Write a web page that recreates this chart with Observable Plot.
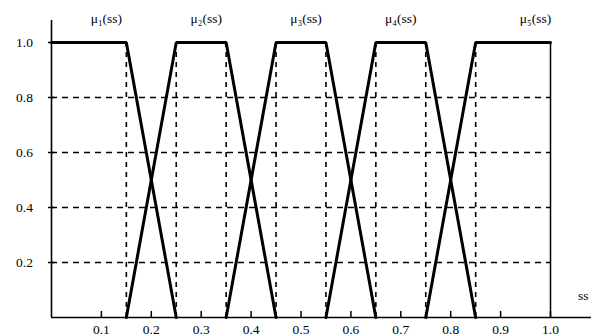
<!DOCTYPE html>
<html><head><meta charset="utf-8">
<script src="https://cdn.jsdelivr.net/npm/d3@7"></script>
<script src="https://cdn.jsdelivr.net/npm/@observablehq/plot@0.6"></script>
<style>body{margin:0;background:#fff;} svg{display:block;}</style>
</head><body><div id="chart"></div>
<script>
const xTicks = [0.1,0.2,0.3,0.4,0.5,0.6,0.7,0.8,0.9,1.0];
const xTickLabels = ["0.1","0.2","0.3","0.4","0.5","0.6","0.7","0.8","0.9","1.0"];
const yTicks = [0.2,0.4,0.6,0.8,1.0];
const yTickLabels = ["0.2","0.4","0.6","0.8","1.0"];
const gridY = [0.2,0.4,0.6,0.8];
const gridX = [0.15,0.25,0.35,0.45,0.55,0.65,0.75,0.85];
const mfNames = ["μ₁(ss)","μ₂(ss)","μ₃(ss)","μ₄(ss)","μ₅(ss)"];
const mfLabelX = [0.11,0.31,0.51,0.70,0.97];
const mfBreakX = [[0,0.15,0.25],[0.15,0.25,0.35,0.45],[0.35,0.45,0.55,0.65],[0.55,0.65,0.75,0.85],[0.75,0.85,1.0]];
const mfBreakY = [[1,1,0],[0,1,1,0],[0,1,1,0],[0,1,1,0],[0,1,1]];
const axisLabel = "ss";

const lines = [];
mfBreakX.forEach((xs,i)=>xs.forEach((x,j)=>lines.push({mf:mfNames[i],x,y:mfBreakY[i][j]})));

const font = "Liberation Serif";
const chart = Plot.plot({
  width:591, height:336,
  marginLeft:51, marginRight:41, marginTop:42, marginBottom:19,
  x:{type:"linear", domain:[0,1], axis:null},
  y:{type:"linear", domain:[0,1], axis:null},
  style:{fontFamily:font, fontSize:"13px", background:"#fff", color:"#000"},
  marks:[
    Plot.ruleY(gridY,{y:d=>d,x1:0,x2:1,stroke:"#000",strokeWidth:1.6,strokeDasharray:"6,5"}),
    Plot.ruleX(gridX,{x:d=>d,y1:0,y2:1,stroke:"#000",strokeWidth:1.6,strokeDasharray:"5,5"}),
    Plot.ruleX([1.0],{x:d=>d,y1:0,y2:1,stroke:"#000",strokeWidth:1.5}),
    Plot.ruleY([0],{y:d=>d,x1:0,x2:1.1,stroke:"#000",strokeWidth:1.6}),
    Plot.ruleX([0],{x:d=>d,y1:0,y2:1.08,stroke:"#000",strokeWidth:1.6}),
    Plot.ruleX(xTicks,{x:d=>d,y1:0,y2:0.022,stroke:"#000",strokeWidth:1.5}),
    Plot.ruleY(yTicks,{y:d=>d,x1:-0.006,x2:0.006,stroke:"#000",strokeWidth:1.5}),
    Plot.line(lines,{x:"x",y:"y",z:"mf",stroke:"#000",strokeWidth:3,strokeLinejoin:"miter"}),
    Plot.text(xTicks,{x:d=>d,y:0,text:(d,i)=>xTickLabels[i],dy:12,fontSize:13.5}),
    Plot.text(yTicks,{x:0,y:d=>d,text:(d,i)=>yTickLabels[i],dx:-27,textAnchor:"middle",fontSize:13.5}),
    Plot.text(mfNames,{x:(d,i)=>mfLabelX[i],y:1,text:d=>d,dy:-24,fontSize:13.5}),
    Plot.text([axisLabel],{x:1.055,y:0.08,text:d=>d,textAnchor:"start",fontSize:13.5})
  ]
});
document.getElementById("chart").appendChild(chart);
</script></body></html>
